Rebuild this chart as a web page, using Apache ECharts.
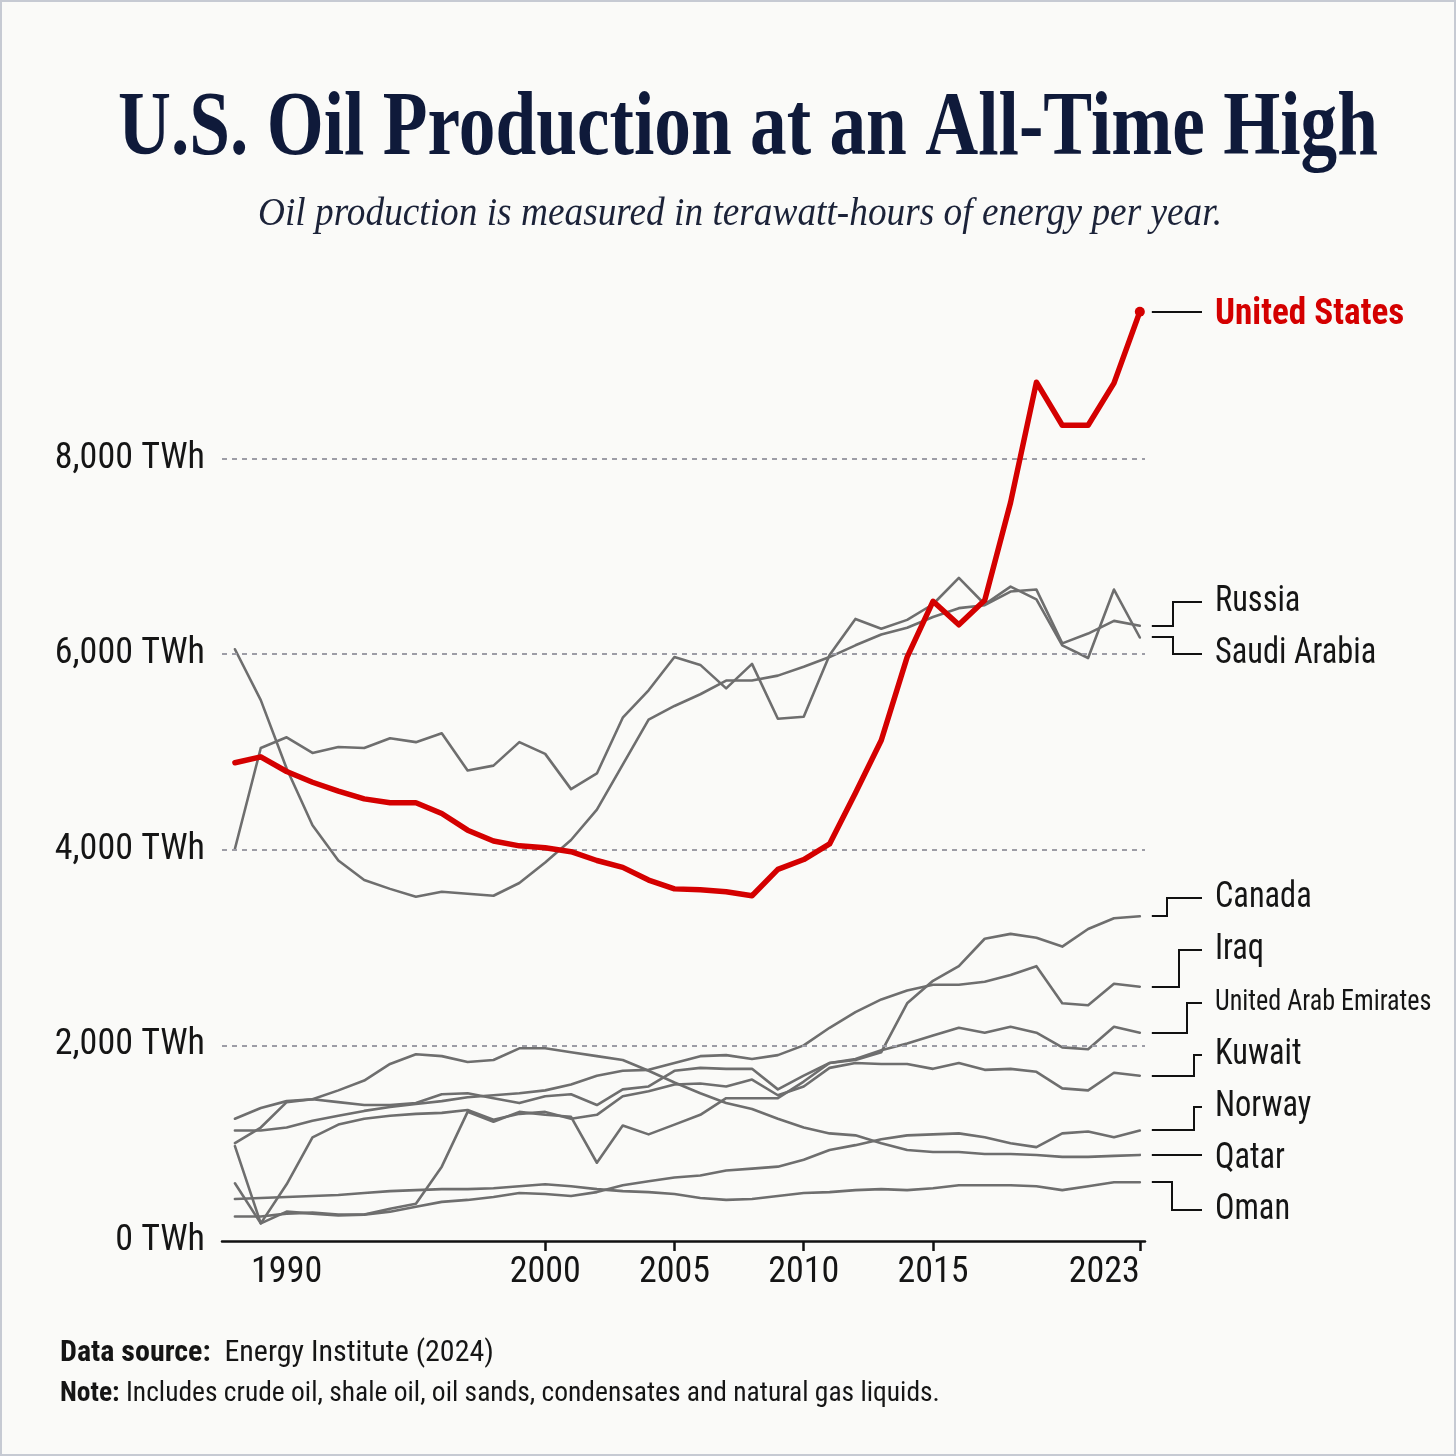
<!DOCTYPE html>
<html>
<head>
<meta charset="utf-8">
<title>U.S. Oil Production at an All-Time High</title>
<script src="https://cdn.jsdelivr.net/npm/echarts@6/dist/echarts.min.js"></script>
<style>
  html, body { margin: 0; padding: 0; background: #fafaf8; }
  #chart { width: 1456px; height: 1456px; }
</style>
</head>
<body>
<div id="chart"></div>
<script>
// years on the x axis
var years = [1988, 1989, 1990, 1991, 1992, 1993, 1994, 1995, 1996, 1997, 1998, 1999,
             2000, 2001, 2002, 2003, 2004, 2005, 2006, 2007, 2008, 2009, 2010, 2011,
             2012, 2013, 2014, 2015, 2016, 2017, 2018, 2019, 2020, 2021, 2022, 2023];

// oil production, TWh per year
var unitedStates = [4890, 4950, 4800, 4690, 4600, 4520, 4480, 4480, 4370, 4200, 4090, 4040,
                    4020, 3980, 3890, 3820, 3690, 3600, 3590, 3570, 3530, 3800, 3900, 4060,
                    4580, 5120, 5970, 6540, 6300, 6550, 7550, 8780, 8340, 8340, 8770, 9500];
var russia = [6050, 5530, 4830, 4250, 3890, 3690, 3600, 3520, 3570, 3550, 3530, 3660,
              3870, 4100, 4410, 4870, 5330, 5470, 5590, 5730, 5730, 5780, 5870, 5970,
              6090, 6200, 6270, 6380, 6470, 6500, 6640, 6660, 6110, 6210, 6340, 6290];
var saudiArabia = [4010, 5040, 5150, 4990, 5050, 5040, 5140, 5100, 5190, 4810, 4860, 5100,
                   4980, 4620, 4780, 5350, 5630, 5970, 5890, 5650, 5900, 5340, 5360, 5990,
                   6360, 6260, 6350, 6510, 6780, 6510, 6690, 6560, 6090, 5960, 6660, 6170];
var canada = [590, 180, 300, 280, 260, 270, 330, 380, 760, 1320, 1220, 1320,
              1290, 1270, 800, 1180, 1090, 1190, 1290, 1460, 1460, 1460, 1630, 1820,
              1850, 1930, 2430, 2660, 2810, 3090, 3140, 3100, 3010, 3190, 3300, 3320];
var iraq = [1130, 1130, 1160, 1230, 1280, 1330, 1370, 1400, 1430, 1470, 1490, 1510,
            1540, 1600, 1690, 1740, 1750, 1820, 1890, 1900, 1860, 1900, 2000, 2180,
            2340, 2470, 2560, 2620, 2620, 2650, 2720, 2810, 2430, 2410, 2630, 2600];
var uae = [1000, 1160, 1420, 1450, 1420, 1390, 1390, 1410, 1500, 1510, 1460, 1410,
           1480, 1500, 1390, 1550, 1580, 1740, 1770, 1760, 1760, 1550, 1690, 1820,
           1860, 1950, 2020, 2100, 2180, 2130, 2190, 2130, 1980, 1960, 2190, 2130];
var kuwait = [970, 180, 580, 1060, 1190, 1250, 1280, 1300, 1310, 1340, 1240, 1300,
              1320, 1250, 1290, 1480, 1530, 1600, 1610, 1580, 1650, 1490, 1580, 1770,
              1820, 1810, 1810, 1760, 1820, 1750, 1760, 1730, 1560, 1540, 1720, 1690];
var norway = [250, 250, 280, 290, 270, 270, 300, 350, 400, 420, 450, 490,
              480, 460, 500, 570, 610, 650, 670, 720, 740, 760, 830, 930,
              980, 1040, 1080, 1090, 1100, 1060, 1000, 960, 1100, 1120, 1060, 1130];
var qatar = [1250, 1360, 1430, 1450, 1540, 1640, 1810, 1910, 1890, 1830, 1850, 1970,
             1970, 1930, 1890, 1850, 1740, 1620, 1510, 1410, 1350, 1250, 1160, 1100,
             1080, 1000, 930, 910, 910, 890, 890, 880, 860, 860, 870, 880];
var oman = [430, 440, 450, 460, 470, 490, 510, 520, 530, 530, 540, 560,
            580, 560, 530, 510, 500, 480, 440, 420, 430, 460, 490, 500,
            520, 530, 520, 540, 570, 570, 570, 560, 520, 560, 600, 600];

// axis ticks
var yTicks = [0, 2000, 4000, 6000, 8000];
var gridTicks = [2000, 4000, 6000, 8000];
var xLabels = [1990, 2000, 2005, 2010, 2015, 2023];
var xTicks = [2000, 2005, 2010, 2015, 2023];

var SANS = '"Roboto Condensed", "DejaVu Sans Condensed", sans-serif';
var GRAY = '#6e6e6e';
var RED = '#d40000';
var INK = '#151515';

// labelY is where the name sits on the right, elbow is the bend of its connector
var countries = [
  { name: 'Oman', data: oman, labelY: 1210, elbow: 1172 },
  { name: 'Qatar', data: qatar, labelY: 1159, elbow: 1180 },
  { name: 'Norway', data: norway, labelY: 1107, elbow: 1194 },
  { name: 'Kuwait', data: kuwait, labelY: 1055, elbow: 1194 },
  { name: 'United Arab Emirates', data: uae, labelY: 1003, elbow: 1187, small: true },
  { name: 'Iraq', data: iraq, labelY: 950, elbow: 1179 },
  { name: 'Canada', data: canada, labelY: 898, elbow: 1167 },
  { name: 'Saudi Arabia', data: saudiArabia, labelY: 654, elbow: 1173 },
  { name: 'Russia', data: russia, labelY: 602, elbow: 1173 },
  { name: 'United States', data: unitedStates, labelY: null, elbow: null, main: true }
];

var chart = echarts.init(document.getElementById('chart'));

var series = countries.map(function (c) {
  var pts = years.map(function (y, i) { return [y, c.data[i]]; });
  if (c.main) {
    var last = pts.pop();
    pts.push({ value: last, symbol: 'circle', symbolSize: 10, itemStyle: { color: RED } });
  }
  return {
    name: c.name,
    type: 'line',
    symbol: 'none',
    silent: true,
    z: c.main ? 6 : 3,
    lineStyle: { color: c.main ? RED : GRAY, width: c.main ? 5.5 : 2.6, join: 'round', cap: 'round' },
    data: pts
  };
});

// dashed reference lines
series.unshift({
  name: 'grid',
  type: 'line',
  data: [],
  silent: true,
  z: 1,
  markLine: {
    silent: true,
    symbol: 'none',
    label: { show: false },
    lineStyle: { color: '#9d9da6', type: [5, 5], width: 2 },
    data: gridTicks.map(function (v) { return { yAxis: v }; })
  }
});

chart.setOption({
  backgroundColor: '#fafaf8',
  animation: false,
  grid: { left: 222, right: 311, top: 302, bottom: 215 },
  xAxis: {
    type: 'value',
    min: 1987.5,
    max: 2023.2,
    axisLine: { lineStyle: { color: '#111', width: 2.5 } },
    axisTick: { customValues: xTicks, length: 10, lineStyle: { color: '#111', width: 2.5 } },
    axisLabel: {
      customValues: xLabels,
      formatter: function (v) { return String(v); },
      color: INK, fontSize: 36, fontFamily: SANS, margin: 14,
      alignMaxLabel: 'right'
    },
    splitLine: { show: false }
  },
  yAxis: {
    type: 'value',
    min: 0,
    max: 9600,
    interval: 2000,
    axisLine: { show: false },
    axisTick: { show: false },
    splitLine: { show: false },
    axisLabel: {
      customValues: yTicks,
      formatter: function (v) { return v.toLocaleString('en-US') + ' TWh'; },
      color: INK, fontSize: 36, fontFamily: SANS, margin: 17
    }
  },
  series: series
});

// stretch serif headings to the width they take in the picture
function fitScale(text, font, target) {
  var ctx = document.createElement('canvas').getContext('2d');
  ctx.font = font;
  return target / ctx.measureText(text).width;
}

var titleText = 'U.S. Oil Production at an All-Time High';
var subText = 'Oil production is measured in terawatt-hours of energy per year.';
var titleFont = 'bold 90px "Liberation Serif"';
var subFont = 'italic 40px "Liberation Serif"';

var graphic = [
  {
    type: 'rect', silent: true,
    shape: { x: 1, y: 1, width: 1454, height: 1454 },
    style: { fill: 'none', stroke: '#c6cad3', lineWidth: 2 }
  },
  {
    type: 'text', x: 748, y: 131, scaleX: fitScale(titleText, titleFont, 1260),
    style: { text: titleText, font: titleFont, fill: '#0f1a3a', align: 'center', verticalAlign: 'middle' }
  },
  {
    type: 'text', x: 740, y: 214, scaleX: fitScale(subText, subFont, 964),
    style: { text: subText, font: subFont, fill: '#1b2238', align: 'center', verticalAlign: 'middle' }
  },
  {
    type: 'text', x: 60, y: 1353,
    style: {
      text: '{b|Data source:}  {n|Energy Institute (2024)}',
      verticalAlign: 'middle', fill: INK, fontFamily: SANS, fontSize: 30,
      rich: {
        b: { fontFamily: SANS, fontSize: 30, fontWeight: 'bold', fill: INK },
        n: { fontFamily: SANS, fontSize: 30, fill: INK }
      }
    }
  },
  {
    type: 'text', x: 60, y: 1394,
    style: {
      text: '{b|Note:} {n|Includes crude oil, shale oil, oil sands, condensates and natural gas liquids.}',
      verticalAlign: 'middle', fill: INK, fontFamily: SANS, fontSize: 27.5,
      rich: {
        b: { fontFamily: SANS, fontSize: 27.5, fontWeight: 'bold', fill: INK },
        n: { fontFamily: SANS, fontSize: 27.5, fill: INK }
      }
    }
  }
];

// names and connectors on the right, starting from each line's last value
countries.forEach(function (c) {
  var end = chart.convertToPixel({ gridIndex: 0 }, [years[years.length - 1], c.data[c.data.length - 1]]);
  var ey = Math.round(end[1]);
  var x0 = end[0] + 12;
  var ly = c.labelY == null ? ey : c.labelY;
  var pts;
  if (Math.abs(ly - ey) < 6) {
    pts = [[x0, ey], [1202, ey]];
  } else {
    pts = [[x0, ey], [c.elbow, ey], [c.elbow, ly], [1202, ly]];
  }
  graphic.push({
    type: 'polyline', silent: true,
    shape: { points: pts },
    style: { stroke: '#111', lineWidth: 2, fill: null }
  });
  graphic.push({
    type: 'text', x: 1215, y: c.main ? ly + 3 : ly,
    scaleX: c.main ? 0.95 : 0.9,
    style: {
      text: c.name,
      fontFamily: SANS,
      fontSize: c.main ? 37 : (c.small ? 29 : 36),
      fontWeight: c.main ? 'bold' : 'normal',
      fill: c.main ? RED : INK,
      align: 'left', verticalAlign: 'middle'
    }
  });
});

chart.setOption({ graphic: graphic });
</script>
</body>
</html>
